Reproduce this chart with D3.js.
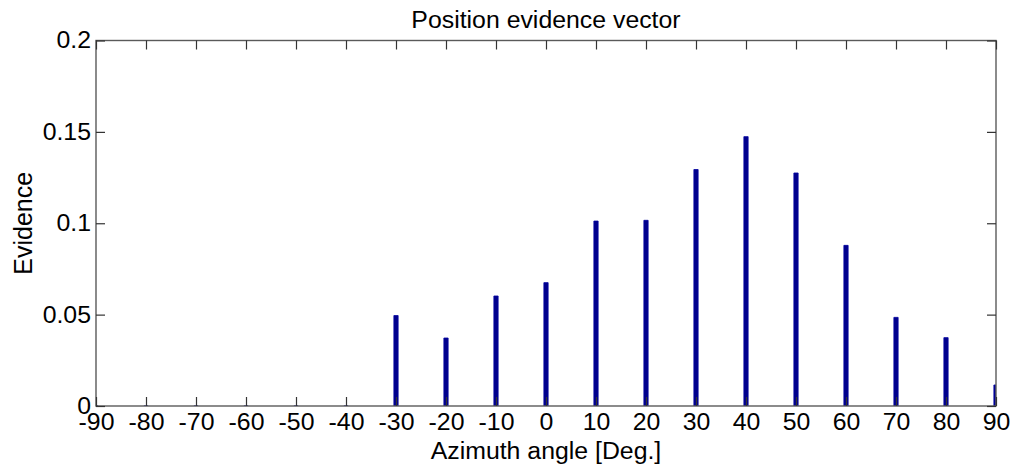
<!DOCTYPE html>
<html>
<head>
<meta charset="utf-8">
<script src="https://cdn.jsdelivr.net/npm/d3@7"></script>
<style>
  html, body { margin: 0; padding: 0; background: #fff; }
  svg { display: block; }
  text { font-family: "Liberation Sans", Arial, Helvetica, sans-serif; fill: #000; }
</style>
</head>
<body>
<svg id="chart" width="1019" height="473"></svg>
<script>
// Azimuth angles (degrees) and the evidence value at each one
const angles = [-90, -80, -70, -60, -50, -40, -30, -20, -10, 0, 10, 20, 30, 40, 50, 60, 70, 80, 90];
const evidence = [0, 0, 0, 0, 0, 0, 0.0495, 0.0372, 0.0602, 0.0675, 0.1012, 0.1016, 0.1294, 0.1474, 0.1275, 0.0879, 0.0485, 0.0374, 0.0115];
const xTicks = [-90, -80, -70, -60, -50, -40, -30, -20, -10, 0, 10, 20, 30, 40, 50, 60, 70, 80, 90];
const yTicks = [0, 0.05, 0.1, 0.15, 0.2];
const yTickLabels = ["0", "0.05", "0.1", "0.15", "0.2"];

const svg = d3.select("#chart");
const margin = { left: 96, right: 1019 - 996, top: 40.5, bottom: 473 - 406 };
const W = 1019 - margin.left - margin.right;
const H = 473 - margin.top - margin.bottom;

const x = d3.scaleLinear().domain([-90, 90]).range([0, W]);
const y = d3.scaleLinear().domain([0, 0.2]).range([H, 0]);

const g = svg.append("g").attr("transform", `translate(${margin.left},${margin.top})`);

const FONT = 23;
// slight horizontal stretch applied to the horizontal labels
const STRETCH = 1.08;
function widen(sel) {
  sel.each(function () {
    const w = this.getComputedTextLength();
    d3.select(this).attr("textLength", w * STRETCH).attr("lengthAdjust", "spacingAndGlyphs");
  });
}

g.append("defs").append("clipPath").attr("id", "plotClip")
  .append("rect").attr("x", 0).attr("y", 0).attr("width", W).attr("height", H);

// bars (zero-valued bars leave a small mark on the baseline)
const barW = (x(10) - x(0)) * 0.085;
g.append("g").attr("clip-path", "url(#plotClip)")
  .selectAll("path.bar")
  .data(angles.map((a, i) => ({ a, v: evidence[i] })))
  .join("path")
  .attr("class", "bar")
  .attr("d", d => {
    const x0 = x(d.a) - barW / 2, x1 = x(d.a) + barW / 2;
    return `M${x0},${y(0)}V${y(d.v)}H${x1}V${y(0)}Z`;
  })
  .attr("fill", "#00008c")
  .attr("stroke", "#0000a0")
  .attr("stroke-width", 0.8);

// axes frame
const boxColor = "#5a5a5a";
g.append("rect").attr("x", 0).attr("y", 0).attr("width", W).attr("height", H)
  .attr("fill", "none").attr("stroke", boxColor).attr("stroke-width", 1.4);

const tickLen = 9;
const bottomAxis = d3.axisBottom(x).tickValues(xTicks).tickSizeInner(-tickLen).tickSizeOuter(0).tickFormat(d => String(d));
const topAxis = d3.axisTop(x).tickValues(xTicks).tickSizeInner(-tickLen).tickSizeOuter(0).tickFormat("");
const leftAxis = d3.axisLeft(y).tickValues(yTicks).tickSizeInner(-tickLen).tickSizeOuter(0).tickFormat((d, i) => yTickLabels[i]);
const rightAxis = d3.axisRight(y).tickValues(yTicks).tickSizeInner(-tickLen).tickSizeOuter(0).tickFormat("");

function style(ax) {
  ax.attr("font-size", FONT).attr("font-family", '"Liberation Sans", Arial, sans-serif');
  ax.select(".domain").remove();
  ax.selectAll(".tick line").attr("stroke", "#333").attr("stroke-width", 1.2);
  ax.selectAll(".tick text").attr("fill", "#000");
}

const bx = g.append("g").attr("transform", `translate(0,${H})`).call(bottomAxis).call(style);
bx.selectAll(".tick text").attr("y", 8).attr("dy", "0.71em").call(widen);
g.append("g").call(topAxis).call(style);
const ly = g.append("g").call(leftAxis).call(style);
ly.selectAll(".tick text").attr("x", -5).call(widen);
g.append("g").attr("transform", `translate(${W},0)`).call(rightAxis).call(style);

// title and axis labels
svg.append("text")
  .attr("x", margin.left + W / 2).attr("y", 28)
  .attr("text-anchor", "middle").attr("font-size", FONT)
  .text("Position evidence vector").call(widen);

svg.append("text")
  .attr("x", margin.left + W / 2).attr("y", 459)
  .attr("text-anchor", "middle").attr("font-size", FONT)
  .text("Azimuth angle [Deg.]").call(widen);

svg.append("text")
  .attr("transform", `translate(32,${margin.top + H / 2}) rotate(-90)`)
  .attr("text-anchor", "middle").attr("font-size", 25)
  .text("Evidence");
</script>
</body>
</html>
